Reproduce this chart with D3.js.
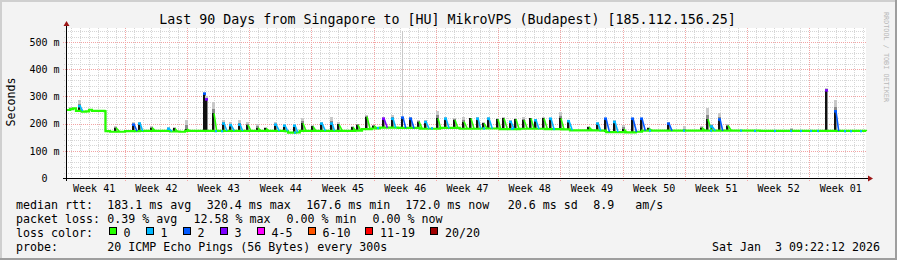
<!DOCTYPE html>
<html><head><meta charset="utf-8">
<script src="https://cdn.jsdelivr.net/npm/d3@7"></script>
<style>
html,body{margin:0;padding:0;background:#f3f3f3;overflow:hidden;}
svg{display:block;}
text{font-family:"DejaVu Sans Mono",monospace;fill:#000;white-space:pre;}
</style></head><body>
<svg id="c" width="897" height="260"></svg>
<script>
// ---------------- data ----------------
const titleText = "Last 90 Days from Singapore to [HU] MikroVPS (Budapest) [185.112.156.25]";
const weekLabels = ["Week 41","Week 42","Week 43","Week 44","Week 45","Week 46","Week 47","Week 48","Week 49","Week 50","Week 51","Week 52","Week 01"];
const yTicks = [0,100,200,300,400,500];
const yTickLabels = ["  0  ","100 m","200 m","300 m","400 m","500 m"];
const lossColors = ["#26ff00","#00b8ff","#0059ff","#7e00ff","#ff00ff","#ff5500","#ff0000","#a00000"];
const lossLabels = ["0","1","2","3","4-5","6-10","11-19","20/20"];
// median rtt (ms) at day offsets from graph start
const medianDays = [0,0.45,0.79,1.12,1.8,2.25,2.59,2.92,4.33,4.44,4.95,6.64,8.3,10.6,11.7,12.8,13.4,20.7,24.6,24.98,25.9,26.3,32.5,33.3,34.4,35.3,37.35,39.8,42.1,44.3,46.6,48.8,51.1,53.9,55.8,56.7,60.1,60.75,62.9,64.1,64.8,71.3,78.1,90];
const medianMs   = [250,253,256,247,244,245,251,247,246,172,170,172,173,173,171,170,173,173,172,167,168,173,174,180,182,185,184,181,184,181,182,180,181,180,179,175,174,169,168,170,174,174,173,172];
// spikes: [day, median peak ms, smoke top ms, loss class]
const spikes = [
 [0.48,253,262,0],[1.43,265,287,1],[5.55,185,190,0],[7.54,197,205,2],[8.18,201,205,1],
 [9.6,185,190,0],[11.47,182,186,1],[12.1,182,186,0],[13.5,180,213,0],[15.47,311,318,2],
 [15.73,290,300,3],[16.5,238,280,0],[17.66,201,213,1],[18.48,195,205,1],[19.43,197,213,1],
 [20.36,195,205,0],[21.49,185,197,0],[22.42,182,186,0],[23.55,197,205,1],[24.49,193,197,1],
 [25.62,193,197,1],[26.55,201,219,0],[27.67,190,195,0],[28.72,201,205,1],[29.76,201,225,1],
 [30.63,197,205,0],[32.14,187,190,0],[32.7,195,200,0],[33.75,225,232,0],[34.57,192,195,0],
 [35.7,219,225,3],[36.64,219,230,1],[37.77,223,540,2],[38.7,219,225,2],[39.63,207,212,0],
 [40.39,207,212,1],[41.7,219,246,0],[42.64,219,225,1],[43.65,213,220,0],[44.7,207,225,0],
 [45.45,219,222,0],[46.2,219,225,1],[46.95,201,207,0],[47.51,219,225,1],[48.45,216,222,0],
 [49.2,219,225,0],[49.95,207,212,1],[50.51,216,220,0],[51.45,213,225,0],[52.2,219,222,0],
 [52.76,213,216,1],[53.7,219,225,0],[54.45,219,222,1],[55.57,219,244,0],[56.51,210,215,1],
 [58.76,187,190,0],[59.7,201,205,1],[60.69,219,222,2],[61.65,207,212,1],[62.66,180,195,0],
 [63.73,219,222,2],[64.72,219,222,2],[65.47,182,186,0],[67.72,201,205,2],[69.52,174,190,0],
 [71.47,185,190,0],[72.15,216,256,0],[72.6,190,200,1],[73.43,216,240,2],[74.4,193,198,0],
 [81.6,174,185,0],[85.53,323,330,3],[86.48,246,287,2]
];
// baseline samples where median loss class was 1: [day, ms]
const lossDots = [[16.87,172],[17.55,172],[25.8,167],[35.1,184],[41.2,183],[47.0,182],[50.2,181],[54.9,180],
 [65.67,174],[69.52,174],[72.57,174],[75.97,174],[77.48,173],[79.73,173],[81.6,173],[82.72,173],
 [83.85,173],[84.6,173],[87.6,172],[88.35,172],[89.47,172]];
const legendRows = [
 ["median rtt:","183.1 ms avg","320.4 ms max","167.6 ms min","172.0 ms now","20.6 ms sd","8.9   am/s"],
 ["packet loss:","0.39 % avg","12.58 % max","0.00 % min","0.00 % now"],
 ["loss color:"],
 ["probe:","20 ICMP Echo Pings (56 Bytes) every 300s"]
];
const dateText = "Sat Jan  3 09:22:12 2026";

// ---------------- layout ----------------
const W=897,H=260,L=66,R=866,T=28,B=178;
const FS=11.63;
const legendX = [
 [16,107.3,206.8,306.2,405.2,507.7,593.3],
 [16,107.3,193.5,286.5,372.5],
 [16],
 [16,107.3]
];
const legendY = [208.5,222.5,236.5,250.5];
const boxX = [108.5,145.5,182.5,219.5,256.5,307.5,365,430];

const svg = d3.select("#c");
const end = new Date(2026,0,3,9,22,12);
const start = new Date(end.getTime()-90*864e5);
const dayToDate = d => new Date(start.getTime()+d*864e5);
const x = d3.scaleTime().domain([start,end]).range([L,R]);
const y = d3.scaleLinear().domain([0,551.5]).range([B,T]);
const px = v => Math.round(v)+0.5;

// background and frame
svg.append("rect").attr("width",W).attr("height",H).attr("fill","#f3f3f3");
svg.append("rect").attr("x",0).attr("y",0).attr("width",W).attr("height",2).attr("fill","#cfcfcf");
svg.append("rect").attr("x",0).attr("y",0).attr("width",2).attr("height",H).attr("fill","#cfcfcf");
svg.append("rect").attr("x",0).attr("y",H-2).attr("width",W).attr("height",2).attr("fill","#9e9e9e");
svg.append("rect").attr("x",W-2).attr("y",0).attr("width",2).attr("height",H).attr("fill","#9e9e9e");
svg.append("rect").attr("x",L).attr("y",T).attr("width",R-L).attr("height",B-T).attr("fill","#ffffff");

// grid
const grid = svg.append("g").attr("shape-rendering","crispEdges");
const weekStarts = d3.timeSunday.range(d3.timeSunday.floor(start), end);
const sundays = weekStarts.filter(d=>d>start);
const sundaySet = new Set(sundays.map(d=>+d));
const days = d3.timeDay.range(start,end).filter(d=>!sundaySet.has(+d));
grid.selectAll(".vmin").data(days).join("line")
  .attr("x1",d=>px(x(d))).attr("x2",d=>px(x(d))).attr("y1",T).attr("y2",B+2)
  .attr("stroke","#d6d6d6").attr("stroke-dasharray","1,1");
const hmin = d3.range(20,551,20).filter(v=>v%100!==0);
grid.selectAll(".hmin").data(hmin).join("line")
  .attr("x1",L-2).attr("x2",R).attr("y1",d=>px(y(d))).attr("y2",d=>px(y(d)))
  .attr("stroke","#d6d6d6").attr("stroke-dasharray","1,1");
grid.selectAll(".vmaj").data(sundays).join("line")
  .attr("x1",d=>px(x(d))).attr("x2",d=>px(x(d))).attr("y1",T).attr("y2",B+3)
  .attr("stroke","#f2a4a4").attr("stroke-dasharray","1,1");
grid.selectAll(".hmaj").data(yTicks.filter(v=>v>0)).join("line")
  .attr("x1",L-3).attr("x2",R).attr("y1",d=>px(y(d))).attr("y2",d=>px(y(d)))
  .attr("stroke","#f2a4a4").attr("stroke-dasharray","1,1");

// data marks
const baseAt = d => {
  const i = d3.bisectRight(medianDays,d);
  if (i<=0) return medianMs[0];
  if (i>=medianDays.length) return medianMs[medianMs.length-1];
  const t=(d-medianDays[i-1])/(medianDays[i]-medianDays[i-1]);
  return medianMs[i-1]+t*(medianMs[i]-medianMs[i-1]);
};
const marks = svg.append("g");
const smokeG = marks.append("g").attr("shape-rendering","crispEdges");
spikes.forEach(([d,peak,smoke,loss])=>{
  const cx = Math.round(x(dayToDate(d)));
  const yb = y(baseAt(d)), yp=y(peak), ys=y(smoke);
  const tall = smoke-peak>150;
  smokeG.append("rect").attr("x",tall?cx:cx-1).attr("width",tall?1:3).attr("y",ys).attr("height",yb-ys).attr("fill","#c8c8c8");
  const ym = y(peak+(smoke-peak)*0.4);
  if (!tall) smokeG.append("rect").attr("x",cx-1).attr("width",3).attr("y",ym).attr("height",yb-ym).attr("fill","#8a8a8a");
  smokeG.append("rect").attr("x",cx-1).attr("width",2).attr("y",yp).attr("height",Math.max(0,yb-yp)).attr("fill","#111");
});
// drop connectors
medianDays.forEach((d,i)=>{
  if(i>0 && Math.abs(medianMs[i]-medianMs[i-1])>40){
    const cx=px(x(dayToDate(d)));
    marks.append("line").attr("x1",cx).attr("x2",cx).attr("y1",y(medianMs[i-1])).attr("y2",y(medianMs[i]))
      .attr("stroke","#111").attr("stroke-width",1.2);
  }
});
const line = d3.line().x((d,i)=>x(dayToDate(medianDays[i]))).y((d,i)=>y(medianMs[i])).curve(d3.curveStepAfter);
marks.append("path").datum(medianMs).attr("d",line).attr("fill","none")
  .attr("stroke",lossColors[0]).attr("stroke-width",2.2);
// spike medians (slope + tip)
spikes.forEach(([d,peak,smoke,loss])=>{
  const cx = Math.round(x(dayToDate(d)));
  const base = baseAt(d);
  if (peak-base>2 && peak-base<80){
    marks.append("line").attr("x1",cx+1).attr("y1",y(peak)).attr("x2",x(dayToDate(d+0.45))).attr("y2",y(base))
      .attr("stroke",lossColors[loss]).attr("stroke-width",1.6);
  }
  if (loss>0) marks.append("rect").attr("x",cx-1).attr("width",3).attr("y",y(peak)-1).attr("height",2.5).attr("fill",lossColors[loss]);
});
marks.selectAll(".ld").data(lossDots).join("rect")
  .attr("x",d=>Math.round(x(dayToDate(d[0])))-1).attr("width",2)
  .attr("y",d=>y(d[1])-1.1).attr("height",2.2).attr("fill",lossColors[1]);

// axes
const ax = svg.append("g").attr("shape-rendering","crispEdges");
ax.append("line").attr("x1",L-3).attr("x2",R+3).attr("y1",B+0.5).attr("y2",B+0.5).attr("stroke","#000");
ax.append("line").attr("x1",L+0.5).attr("x2",L+0.5).attr("y1",B+3).attr("y2",T-3).attr("stroke","#000");
svg.append("path").attr("d",`M${R+2},${B-2.5}L${R+7},${B+0.5}L${R+2},${B+3.5}Z`).attr("fill","#9c1616");
svg.append("path").attr("d",`M${L-2.5},${T-2}L${L+0.5},${T-7}L${L+3.5},${T-2}Z`).attr("fill","#9c1616");

const weekMids = weekStarts.map(s=>d3.timeHour.offset(s,84));
const xAxis = d3.axisBottom(x).tickValues(weekMids).tickFormat((d,i)=>weekLabels[i]).tickSize(0).tickPadding(6.4);
const gx = svg.append("g").attr("transform",`translate(0,${B})`).call(xAxis);
gx.select(".domain").remove();
gx.selectAll("text").attr("font-family","DejaVu Sans Mono").attr("font-size",10).attr("fill","#000");

const yAxis = d3.axisLeft(y).tickValues(yTicks).tickFormat((d,i)=>yTickLabels[i]).tickSize(0).tickPadding(6.5);
const gy = svg.append("g").attr("transform",`translate(${L},0)`).call(yAxis);
gy.select(".domain").remove();
gy.selectAll("text").attr("font-family","DejaVu Sans Mono").attr("font-size",10).attr("fill","#000").attr("xml:space","preserve");

// texts
svg.append("text").attr("x",447.5).attr("y",24).attr("text-anchor","middle").attr("font-size",13.3).text(titleText);
svg.append("text").attr("transform","translate(14.5,102) rotate(-90)").attr("text-anchor","middle").attr("font-size",FS).text("Seconds");
svg.append("text").attr("transform","translate(883.5,12) rotate(90)").attr("font-size",6.8).style("fill","#b8b8b8").text("RRDTOOL / TOBI OETIKER");

legendRows.forEach((row,r)=>{
  row.forEach((s,k)=>{
    svg.append("text").attr("x",legendX[r][k]).attr("y",legendY[r]).attr("font-size",FS).attr("xml:space","preserve").text(s);
  });
});
lossLabels.forEach((lab,i)=>{
  svg.append("rect").attr("x",boxX[i]+0.5).attr("y",227.5).attr("width",7).attr("height",7)
    .attr("fill",lossColors[i]).attr("stroke","#000").attr("stroke-width",1).attr("shape-rendering","crispEdges");
  svg.append("text").attr("x",boxX[i]+15).attr("y",legendY[2]).attr("font-size",FS).text(lab);
});
svg.append("text").attr("x",880).attr("y",legendY[3]).attr("text-anchor","end").attr("font-size",FS).attr("xml:space","preserve").text(dateText);
</script>
</body></html>
